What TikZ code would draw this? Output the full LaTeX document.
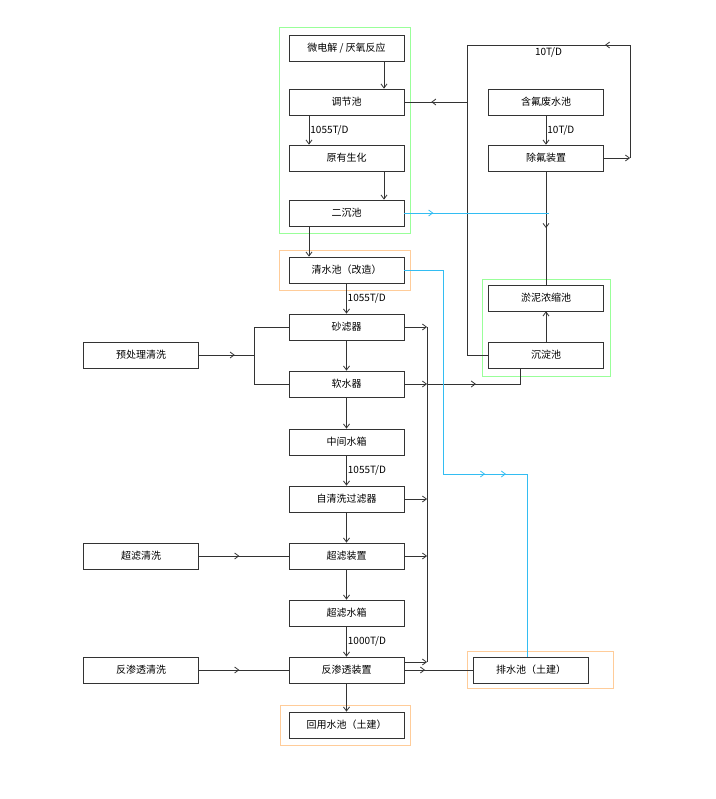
\documentclass[tikz,border=0pt]{standalone}
\usepackage{fontspec}
\setmainfont{Noto Sans CJK SC}
\usetikzlibrary{arrows.meta, decorations.markings}

\begin{document}
\begin{tikzpicture}[x=1pt, y=-1pt,
  box/.style={draw=black!80, thick, minimum width=115pt, minimum height=26pt, inner sep=0pt, font=\fontsize{10}{12}\selectfont},
  flow/.style={draw=black!80, thick},
  mid/.style={postaction={decorate}, decoration={markings, mark=at position #1 with {\arrow{Straight Barb[length=4pt,width=6pt]}}}},
  tip/.style={-{Straight Barb[length=4pt,width=6pt]}},
  wet/.style={draw=cyan!80, thick},
  rate/.style={right, inner sep=1pt, font=\fontsize{10}{12}\selectfont}]
\useasboundingbox (0,0) rectangle (715,799);
% frames
\draw[green!40, thick] (279,27) rectangle (410,233);
\draw[orange!40, thick] (279,250) rectangle (410,290);
\draw[green!40, thick] (482,279) rectangle (610,376);
\draw[orange!40, thick] (467,651) rectangle (613,688);
\draw[orange!40, thick] (280,705) rectangle (410,745);
% main column
\node[box] (A) at (346.5,48) {微电解 / 厌氧反应};
\node[box] (B) at (346.5,102) {调节池};
\node[box] (C) at (346.5,158) {原有生化};
\node[box] (D) at (346.5,213) {二沉池};
\node[box] (E) at (346.5,270) {清水池（改造）};
\node[box] (F) at (346.5,327) {砂滤器};
\node[box] (G) at (346.5,384) {软水器};
\node[box] (H) at (346.5,442) {中间水箱};
\node[box] (I) at (346.5,499) {自清洗过滤器};
\node[box] (J) at (346.5,556) {超滤装置};
\node[box] (K) at (346.5,613) {超滤水箱};
\node[box] (L) at (346.5,670) {反渗透装置};
\node[box] (M) at (346.5,725) {回用水池（土建）};
% right column
\node[box] (P) at (546,102) {含氟废水池};
\node[box] (Q) at (546,158) {除氟装置};
\node[box] (R) at (546,298) {淤泥浓缩池};
\node[box] (S) at (546,355) {沉淀池};
\node[box] (T) at (531,670) {排水池（土建）};
% cleaning
\node[box] (U) at (141,355) {预处理清洗};
\node[box] (V) at (141,556) {超滤清洗};
\node[box] (W) at (141,670) {反渗透清洗};
\coordinate (up) at (630,45);
\coordinate (col) at (467,45);
\coordinate (drain) at (427,327);
\coordinate (wash) at (254,355);

\draw[flow, tip] (A.south -| 384,0) -- (B.north -| 384,0);
\draw[flow, tip] (B.south -| 309,0) -- (C.north -| 309,0) node[rate, midway] {1055T/D};
\draw[flow, tip] (C.south -| 384,0) -- (D.north -| 384,0);
\draw[flow, tip] (D.south -| 309,0) -- (E.north -| 309,0);
\draw[flow, tip] (E) -- (F) node[rate, pos=.5] {};
\node[rate] at (346.5,298.5) {1055T/D};
\foreach \a/\b in {F/G, G/H, I/J, J/K, L/M} \draw[flow, tip] (\a.south) -- (\b.north);
\draw[flow, tip] (H.south) -- (I.north) node[rate, midway] {1055T/D};
\draw[flow, tip] (K.south) -- (L.north) node[rate, midway] {1000T/D};
\draw[flow, tip] (P.south) -- (Q.north) node[rate, midway] {10T/D};
% fluorine loop
\draw[flow, tip] (Q.east) -- (Q.east -| up);
\draw[flow, mid=.5] (Q.east -| up) -- (up) -- (col) node[below, midway, font=\fontsize{10}{12}\selectfont, inner sep=2pt] {10T/D};
\draw[flow] (col) -- (col |- S.west) -- (S.west);
\draw[flow, mid=.57] (col |- B.east) -- (B.east);
\draw[flow, mid=.5] (Q.south) -- (R.north);
\draw[flow, tip] (S.north) -- (R.north |- R.south);
% pretreatment washing
\draw[flow, mid=.65] (U.east) -- (wash);
\draw[flow] (F.west) -| (G.west -| wash) -- (G.west);
\draw[flow, mid=.45] (V.east) -- (J.west);
\draw[flow, mid=.45] (W.east) -- (L.west);
% drain
\draw[flow] (drain) -- (drain |- 0,662);
\foreach \n in {F, G, I, J} \draw[flow, tip] (\n.east) -- (\n.east -| drain);
\draw[flow, tip] (L.east |- 0,662) -- (drain |- 0,662);
\draw[flow, mid=.45] (G.east -| drain) -- (520,384) -- (S.south -| 520,0);
\draw[flow, mid=.3] (L.east) -- (T.west);
% sludge water
\draw[wet, mid=.2] (D.east) -- (549,213);
\draw[wet, mid=.6] (E.east) -- (443,270) -- (443,474) -- (527,474) -- (T.north -| 527,0);
\draw[wet, mid=.5] (443,474) -- (527,474);
\end{tikzpicture}
\end{document}
